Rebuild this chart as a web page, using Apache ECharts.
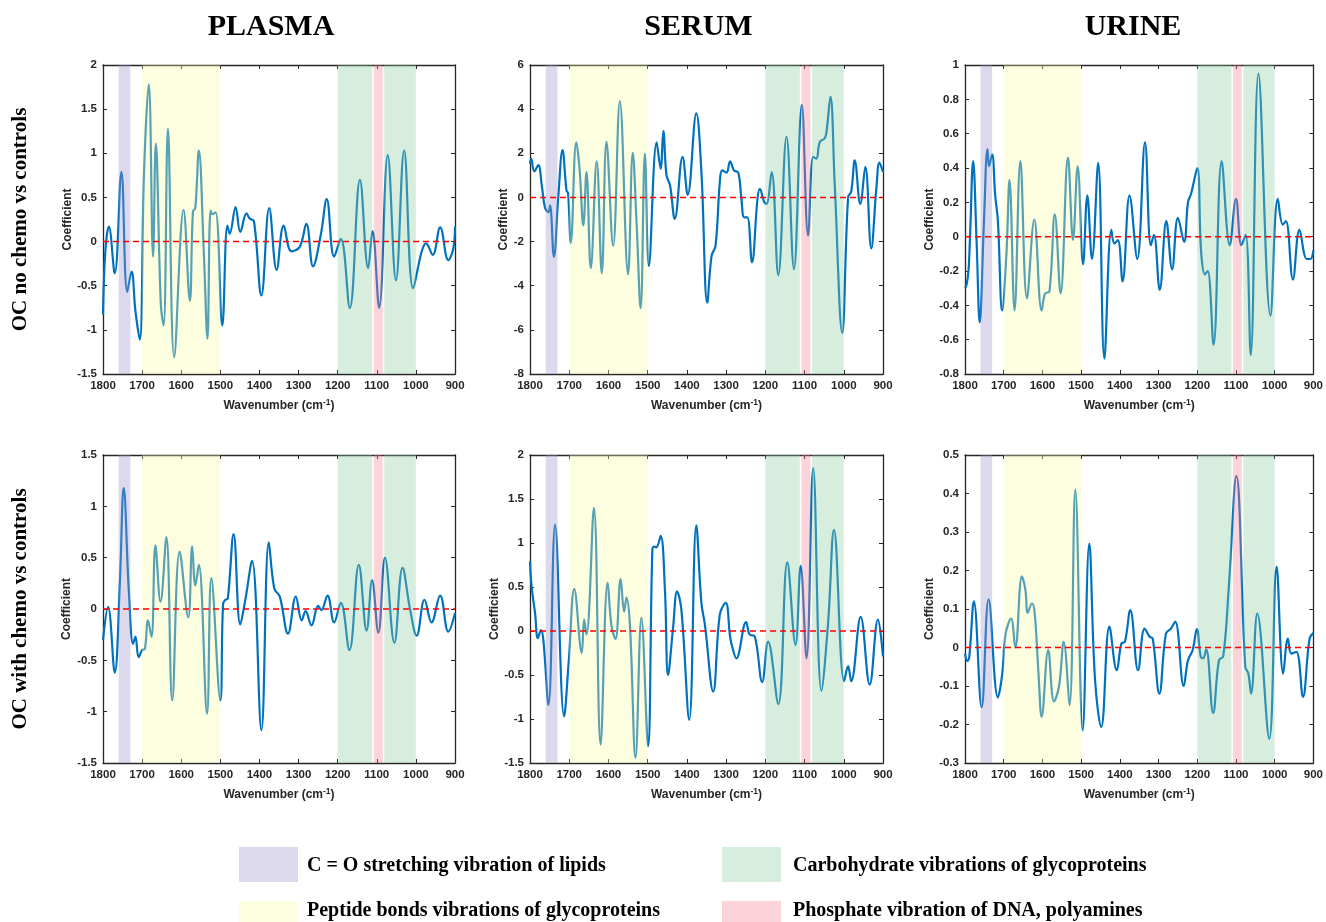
<!DOCTYPE html>
<html><head><meta charset="utf-8">
<script src="https://cdn.jsdelivr.net/npm/echarts/dist/echarts.min.js"></script>
<style>html,body{margin:0;padding:0;background:#fff}#c{width:1326px;height:922px}</style>
</head><body><div id="c"></div><script>
// ---- data: [wavenumber, coefficient] ----
const plasmaNoChemo = [[1800,-0.83],[1794,-0.11],[1785,0.17],[1770,-0.36],[1753,0.79],[1738,-0.57],[1727,-0.34],[1717,-0.79],[1706,-1.11],[1695,0.8],[1683,1.78],[1672,-0.17],[1665,1.11],[1652,-0.72],[1645,-0.95],[1634,1.28],[1618,-1.31],[1594,0.36],[1578,-0.67],[1570,0.34],[1564,0.38],[1555,1.03],[1542,-0.15],[1533,-1.10],[1525,0.35],[1520,0.31],[1512,0.33],[1495,-0.95],[1482,0.18],[1476,0.09],[1461,0.39],[1449,0.11],[1433,0.32],[1425,0.26],[1414,0.23],[1395,-0.61],[1375,0.38],[1356,-0.32],[1338,0.18],[1318,-0.11],[1297,-0.06],[1280,0.20],[1263,-0.28],[1243,0.08],[1228,0.48],[1209,-0.17],[1192,0.03],[1169,-0.75],[1143,0.70],[1122,-0.30],[1111,0.12],[1094,-0.75],[1072,0.98],[1051,-0.44],[1030,1.03],[1007,-0.53],[985,-0.11],[974,-0.02],[957,-0.15],[938,0.16],[917,-0.21],[904,-0.07],[900,0.17]];
const serumNoChemo = [[1800,1.53],[1797,1.76],[1789,1.18],[1779,1.46],[1770,0.55],[1762,-0.44],[1753,-0.67],[1749,-0.36],[1739,-2.69],[1728,0],[1717,2.14],[1707,0.32],[1703,0.2],[1696,-2.06],[1682,2.49],[1674,1.38],[1664,-1.27],[1656,1.15],[1645,-3.2],[1630,1.64],[1617,-3.43],[1605,2.52],[1588,-2.19],[1571,4.37],[1550,-3.48],[1538,2.02],[1528,-1.27],[1518,-5.02],[1507,1.99],[1497,-3.1],[1477,2.49],[1467,1.30],[1460,3.0],[1452,1.0],[1443,0.55],[1431,-0.97],[1411,1.84],[1398,0.12],[1376,3.81],[1363,1.15],[1348,-4.77],[1337,-2.64],[1327,-2.19],[1316,0.70],[1310,1.23],[1299,1.12],[1290,1.64],[1280,1.23],[1269,1.12],[1261,-0.06],[1254,-0.9],[1246,-0.9],[1234,-2.94],[1220,-0.06],[1214,0.39],[1203,-0.21],[1197,-0.29],[1184,1.15],[1167,-3.52],[1146,2.75],[1127,-3.25],[1107,4.19],[1091,-1.73],[1078,1.84],[1070,1.76],[1061,2.52],[1049,2.67],[1044,2.97],[1034,4.57],[1023,0.55],[1004,-6.13],[989,0],[981,0.27],[972,1.68],[958,-0.29],[945,1.38],[930,-2.31],[917,0.39],[909,1.58],[900,1.15]];
const urineNoChemo = [[1800,-0.30],[1796,-0.28],[1791,-0.2],[1787,0],[1779,0.44],[1770,-0.03],[1762,-0.50],[1751,0.09],[1742,0.51],[1738,0.41],[1730,0.48],[1722,0.24],[1715,0.09],[1704,-0.43],[1693,-0.1],[1685,0.33],[1672,-0.43],[1657,0.44],[1640,-0.36],[1621,0.10],[1602,-0.43],[1593,-0.33],[1582,-0.32],[1568,0.13],[1553,-0.33],[1534,0.46],[1521,-0.02],[1509,0.41],[1495,-0.16],[1484,0.24],[1472,-0.13],[1456,0.43],[1440,-0.71],[1422,0.04],[1414,-0.04],[1405,-0.02],[1393,-0.26],[1375,0.24],[1355,-0.13],[1335,0.55],[1320,-0.05],[1312,0.01],[1297,-0.31],[1280,0.09],[1265,-0.19],[1250,0.11],[1234,-0.03],[1224,0.20],[1216,0.25],[1200,0.40],[1190,-0.09],[1180,-0.22],[1173,-0.20],[1158,-0.63],[1137,0.44],[1116,-0.05],[1100,0.22],[1086,-0.05],[1075,0.01],[1062,-0.69],[1042,0.95],[1011,-0.46],[992,0.22],[979,0.07],[971,0.09],[953,-0.25],[936,0.04],[917,-0.13],[908,-0.13],[900,-0.08]];
const plasmaChemo = [[1800,-0.30],[1787,0.02],[1770,-0.62],[1757,0.25],[1747,1.18],[1734,0.18],[1723,-0.34],[1717,-0.27],[1709,-0.47],[1700,-0.40],[1693,-0.39],[1685,-0.11],[1676,-0.27],[1666,0.62],[1653,0.07],[1638,0.70],[1623,-0.89],[1604,0.56],[1582,-0.08],[1572,0.61],[1564,0.23],[1555,0.43],[1534,-1.02],[1523,0.30],[1500,-0.89],[1493,0.05],[1487,0.09],[1481,0.10],[1466,0.73],[1449,-0.15],[1437,0.07],[1419,0.47],[1395,-1.18],[1376,0.65],[1362,0.20],[1348,0.12],[1327,-0.24],[1307,0.12],[1292,-0.11],[1282,-0.02],[1267,-0.16],[1250,0.03],[1242,-0.01],[1226,0.13],[1209,-0.13],[1192,0.06],[1170,-0.40],[1146,0.43],[1126,-0.21],[1112,0.28],[1096,-0.23],[1079,0.50],[1055,-0.33],[1034,0.40],[1015,0.0],[998,-0.26],[978,0.09],[960,-0.13],[938,0.13],[917,-0.22],[900,-0.04]];
const serumChemo = [[1800,0.79],[1796,0.51],[1787,0.2],[1780,-0.08],[1772,0.01],[1766,-0.1],[1753,-0.84],[1736,1.21],[1713,-0.97],[1701,-0.33],[1687,0.48],[1668,-0.25],[1662,0.13],[1656,-0.04],[1637,1.40],[1620,-1.29],[1602,0.55],[1592,0.05],[1582,-0.09],[1569,0.59],[1560,0.22],[1554,0.38],[1545,0.05],[1531,-1.44],[1516,0.15],[1499,-1.31],[1488,0.93],[1483,0.96],[1478,0.95],[1467,1.08],[1456,0.47],[1448,-0.50],[1435,0.05],[1425,0.45],[1414,0.24],[1394,-1.01],[1376,1.20],[1363,0.32],[1354,0.07],[1333,-0.69],[1316,0.19],[1301,0.32],[1290,-0.06],[1285,-0.17],[1274,-0.31],[1249,0.10],[1240,-0.04],[1227,-0.06],[1208,-0.58],[1193,-0.12],[1167,-0.83],[1144,0.78],[1123,-0.16],[1110,0.74],[1095,-0.31],[1078,1.85],[1057,-0.68],[1040,0.09],[1025,1.15],[999,-0.57],[989,-0.40],[981,-0.57],[957,0.16],[934,-0.61],[913,0.13],[900,-0.29]];
const urineChemo = [[1800,-0.016],[1794,-0.035],[1789,-0.025],[1777,0.12],[1757,-0.155],[1739,0.125],[1715,-0.13],[1704,-0.07],[1695,0.036],[1681,0.075],[1670,0],[1653,0.185],[1644,0.15],[1638,0.09],[1627,0.115],[1620,0.09],[1610,-0.07],[1602,-0.18],[1585,-0.007],[1570,-0.14],[1557,-0.10],[1545,0.015],[1530,-0.15],[1515,0.41],[1496,-0.215],[1479,0.27],[1464,-0.085],[1448,-0.206],[1427,0.054],[1408,-0.059],[1396,0.01],[1387,0.015],[1373,0.097],[1353,-0.059],[1336,0.049],[1323,0.028],[1315,0.023],[1298,-0.12],[1281,0.036],[1268,0.049],[1257,0.067],[1235,-0.10],[1224,-0.033],[1212,-0.007],[1201,0.048],[1191,-0.024],[1185,-0.028],[1177,-0.005],[1159,-0.17],[1144,-0.033],[1133,-0.023],[1119,0.15],[1099,0.445],[1076,-0.05],[1068,-0.068],[1061,-0.12],[1045,0.088],[1014,-0.237],[995,0.21],[978,-0.068],[966,0.023],[957,-0.016],[944,-0.011],[927,-0.128],[910,0.023],[900,0.038]];

// shaded spectral regions: [from, to, kind]
const bands = [[1760,1730,0],[1700,1500,1],[1200,1112,2],[1108,1085,3],[1081,1000,2]];
const bandNames = ['C = O stretching vibration of lipids','Peptide bonds vibrations of glycoproteins','Carbohydrate vibrations of glycoproteins','Phosphate vibration of DNA, polyamines'];
const columnTitles = ['PLASMA','SERUM','URINE'];
const rowTitles = ['OC no chemo vs controls','OC with chemo vs controls'];
const xRange = [900, 1800];
const xInterval = 100;
const zeroLine = [[1800,0],[900,0]];

// ---- styling / layout ----
const bandOverlay = ['rgba(155,146,201,0.35)','rgba(249,249,166,0.35)','rgba(141,206,164,0.35)','rgba(244,129,146,0.35)'];
const bandSolid = ['#dcd9ec','#fdfde0','#d7eedf','#fbd3d9'];
const cols = [{left:103,width:352},{left:530,width:353},{left:965,width:352}];
const rows = [{top:65,height:309},{top:455,height:308}];
const panels = [
  {data:plasmaNoChemo, yMin:-1.5, yMax:2, yInt:0.5, c:0, r:0, gap:29},
  {data:serumNoChemo,  yMin:-8,   yMax:6, yInt:2,   c:1, r:0, gap:19},
  {data:urineNoChemo,  yMin:-0.8, yMax:1, yInt:0.2, c:2, r:0, gap:29},
  {data:plasmaChemo,   yMin:-1.5, yMax:1.5, yInt:0.5, c:0, r:1, gap:30},
  {data:serumChemo,    yMin:-1.5, yMax:2, yInt:0.5, c:1, r:1, gap:24},
  {data:urineChemo,    yMin:-0.3, yMax:0.5, yInt:0.1, c:2, r:1, gap:29}
];
const axisColor = '#262626';
const sans = '"Liberation Sans", Arial, sans-serif';
const serif = '"Liberation Serif", "Times New Roman", serif';

const grid = [], xAxis = [], yAxis = [], series = [], graphic = [];
panels.forEach((p, i) => {
  const col = cols[p.c], row = rows[p.r];
  grid.push({left:col.left, top:row.top, width:col.width, height:row.height, containLabel:false});
  const axLine = {show:true, onZero:false, lineStyle:{color:axisColor, width:1.3}};
  const tick = {show:true, inside:true, length:4, lineStyle:{color:axisColor, width:1}};
  xAxis.push({gridIndex:i, type:'value', min:xRange[0], max:xRange[1], interval:xInterval, inverse:true,
    position:'bottom', axisLine:axLine, axisTick:tick, splitLine:{show:false},
    axisLabel:{margin:6, color:axisColor, fontFamily:sans, fontWeight:'bold', fontSize:11.5, formatter:v => String(v)},
    name:'Wavenumber (cm{sup|-1})', nameLocation:'middle', nameGap:24,
    nameTextStyle:{color:axisColor, fontFamily:sans, fontWeight:'bold', fontSize:12,
      rich:{sup:{fontSize:8.5, fontWeight:'bold', fontFamily:sans, color:axisColor, verticalAlign:'top', padding:[0,0,6,0]}}}});
  xAxis.push({gridIndex:i, type:'value', min:xRange[0], max:xRange[1], interval:xInterval, inverse:true,
    position:'top', axisLine:axLine, axisTick:tick, splitLine:{show:false}, axisLabel:{show:false}});
  yAxis.push({gridIndex:i, type:'value', min:p.yMin, max:p.yMax, interval:p.yInt, position:'left',
    axisLine:axLine, axisTick:tick, splitLine:{show:false},
    axisLabel:{margin:6, color:axisColor, fontFamily:sans, fontWeight:'bold', fontSize:11.5},
    name:'Coefficient', nameLocation:'middle', nameGap:p.gap,
    nameTextStyle:{color:axisColor, fontFamily:sans, fontWeight:'bold', fontSize:12}});
  yAxis.push({gridIndex:i, type:'value', min:p.yMin, max:p.yMax, interval:p.yInt, position:'right',
    axisLine:axLine, axisTick:tick, splitLine:{show:false}, axisLabel:{show:false}});
  const xi = 2*i, yi = 2*i;
  series.push({type:'line', xAxisIndex:xi, yAxisIndex:yi, data:p.data, smooth:0.4, showSymbol:false,
    lineStyle:{color:'#0072BD', width:2.2}, z:2, silent:true, animation:false});
  series.push({type:'custom', xAxisIndex:xi, yAxisIndex:yi, data:bands, z:3, silent:true, animation:false,
    encode:{x:[0,1]}, clip:true,
    renderItem:(params, api) => {
      const a = api.coord([api.value(0), p.yMax]);
      const b = api.coord([api.value(1), p.yMin]);
      return {type:'rect', shape:{x:Math.min(a[0],b[0]), y:a[1], width:Math.abs(b[0]-a[0]), height:b[1]-a[1]},
        style:{fill:bandOverlay[api.value(2)]}};
    }});
  series.push({type:'line', xAxisIndex:xi, yAxisIndex:yi, data:zeroLine, showSymbol:false, z:4, silent:true, animation:false,
    lineStyle:{color:'#ff0000', width:1.5, type:[6,4]}});
});

// column titles
columnTitles.forEach((t, c) => {
  graphic.push({type:'text', x:cols[c].left + cols[c].width/2 - 8, y:27,
    style:{text:t, fill:'#000', font:'bold 30px ' + serif, textAlign:'center', textVerticalAlign:'middle'}});
});
// row titles (rotated)
rowTitles.forEach((t, r) => {
  graphic.push({type:'text', x:21, y:rows[r].top + rows[r].height/2, rotation:Math.PI/2,
    style:{text:t, fill:'#000', font:'bold 21px ' + serif, textAlign:'center', textVerticalAlign:'middle'}});
});
// legend
const legendPos = [{x:239, y:847, tx:307},{x:239, y:901, tx:307},{x:722, y:847, tx:793},{x:722, y:901, tx:793}];
bandNames.forEach((n, k) => {
  const lp = legendPos[k];
  graphic.push({type:'rect', x:lp.x, y:lp.y, shape:{width:59, height:35}, style:{fill:bandSolid[k]}});
  graphic.push({type:'text', x:lp.tx, y:lp.y + (k%2===0 ? 19 : 10), style:{text:n, fill:'#000', font:'bold 20px ' + serif, textVerticalAlign:'middle'}});
});

const chart = echarts.init(document.getElementById('c'), null, {renderer:'canvas'});
chart.setOption({animation:false, backgroundColor:'#fff', grid, xAxis, yAxis, series, graphic});
</script></body></html>
